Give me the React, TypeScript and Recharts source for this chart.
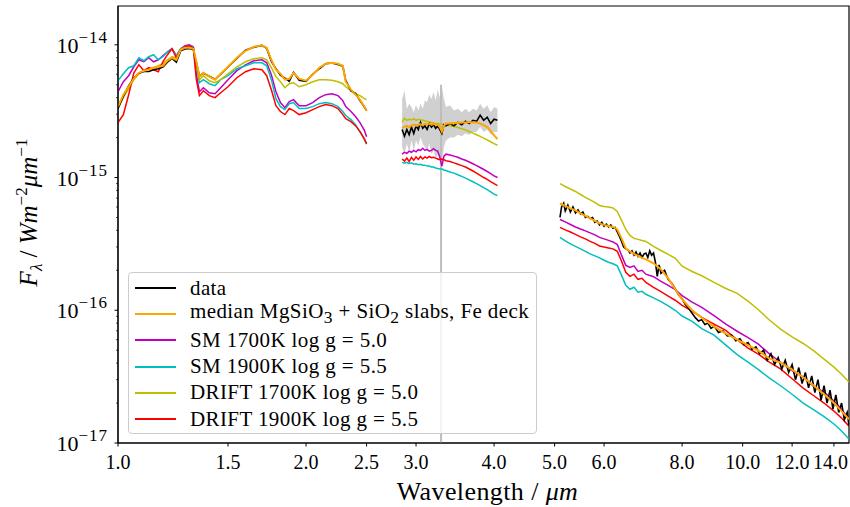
import React from 'react';
import { ComposedChart, Line, Area, XAxis, YAxis, ReferenceLine, ReferenceArea } from 'recharts';

// wavelength in um, flux in units of 1e-15 W m^-2 um^-1

// ---- 1.0 - 2.5 um
const WL_NIR = [1.0, 1.02, 1.04, 1.06, 1.08, 1.1, 1.12, 1.14, 1.16, 1.18, 1.2, 1.22, 1.24, 1.26, 1.28, 1.3, 1.32, 1.335, 1.35, 1.37, 1.4, 1.43, 1.46, 1.5, 1.55, 1.6, 1.65, 1.7, 1.73, 1.76, 1.79, 1.82, 1.85, 1.88, 1.91, 1.95, 2.0, 2.05, 2.1, 2.15, 2.2, 2.25, 2.29, 2.315, 2.36, 2.4, 2.44, 2.48, 2.5];
const DATA_NIR = [3.3, 4.1, 4.9, 5.6, 6.1, 6.3, 6.3, 6.5, 6.6, 6.8, 7.4, 7.9, 7.4, 9.0, 9.3, 9.4, 9.2, 7.3, 5.8, 6.1, 5.8, 5.5, 6.0, 6.8, 7.9, 9.1, 9.6, 9.9, 9.4, 7.5, 6.6, 5.9, 5.6, 5.3, 6.2, 5.4, 5.3, 6.0, 6.6, 7.2, 7.3, 7.1, 6.9, 5.4, 4.5, 4.3, 3.8, 3.4, 3.2];
const MEDIAN_NIR = [3.42, 4.21, 4.83, 5.55, 6.16, 6.38, 6.49, 6.72, 6.83, 6.95, 7.58, 7.99, 7.71, 9.17, 9.49, 9.49, 9.33, 7.45, 5.75, 6.16, 5.75, 5.46, 6.05, 6.83, 7.99, 9.01, 9.66, 9.91, 9.49, 7.71, 6.49, 6.05, 5.46, 5.55, 6.16, 5.55, 5.36, 5.95, 6.72, 7.2, 7.32, 7.2, 6.95, 5.27, 4.59, 4.21, 3.86, 3.42, 3.19];
const SM1700_NIR = [4.43, 5.27, 5.85, 6.83, 7.71, 7.45, 7.99, 7.45, 7.71, 8.27, 8.86, 9.33, 8.27, 9.33, 9.83, 10.0, 9.66, 5.95, 4.43, 4.75, 4.35, 4.28, 4.75, 5.46, 6.38, 7.07, 7.58, 7.71, 7.32, 5.95, 4.43, 3.67, 3.36, 3.73, 3.86, 3.48, 3.48, 3.67, 4.0, 4.21, 4.28, 4.14, 3.8, 3.42, 3.14, 2.88, 2.59, 2.27, 2.03];
const SM1900_NIR = [5.37, 6.05, 6.72, 6.95, 7.99, 7.58, 8.13, 8.42, 7.71, 8.13, 8.86, 9.33, 8.27, 9.33, 9.66, 9.83, 9.66, 6.72, 5.18, 5.46, 5.09, 4.92, 5.46, 5.85, 6.6, 6.95, 7.32, 7.32, 6.95, 5.46, 3.93, 3.42, 3.25, 3.6, 3.67, 3.31, 3.31, 3.42, 3.6, 3.67, 3.6, 3.42, 3.14, 2.93, 2.73, 2.5, 2.22, 1.93, 1.78];
const DRIFT1700_NIR = [3.36, 4.0, 4.67, 5.46, 6.05, 6.38, 6.6, 6.72, 6.95, 7.2, 7.71, 8.13, 7.99, 9.17, 9.49, 9.49, 9.33, 7.07, 5.46, 5.85, 5.36, 5.18, 5.46, 6.05, 6.83, 7.45, 7.85, 7.99, 7.71, 6.72, 5.75, 5.27, 4.75, 5.09, 5.18, 4.83, 5.0, 5.27, 5.46, 5.46, 5.41, 5.27, 5.09, 4.83, 4.51, 4.28, 4.14, 3.93, 3.86];
const DRIFT1900_NIR = [2.59, 2.98, 4.2, 6.13, 7.08, 6.38, 6.72, 6.49, 6.27, 7.45, 8.42, 9.33, 7.99, 9.17, 9.66, 9.83, 9.49, 5.46, 4.14, 4.51, 4.14, 4.0, 4.35, 4.83, 5.65, 6.27, 6.6, 6.49, 5.85, 4.59, 3.48, 3.14, 2.98, 3.31, 3.19, 2.98, 3.08, 3.25, 3.42, 3.55, 3.48, 3.31, 2.98, 2.78, 2.64, 2.46, 2.22, 1.96, 1.8];

// ---- 2.85 - 4.05 um
const WL_L = [2.85, 2.875, 2.9, 2.925, 2.95, 2.975, 3.0, 3.025, 3.05, 3.075, 3.1, 3.125, 3.15, 3.175, 3.2, 3.225, 3.25, 3.275, 3.3, 3.325, 3.35, 3.4, 3.45, 3.5, 3.55, 3.6, 3.65, 3.7, 3.75, 3.8, 3.85, 3.9, 3.95, 4.0, 4.05];
const DATA_L = [2.3, 2.05, 2.3, 2.1, 2.4, 2.15, 2.45, 2.3, 2.6, 2.35, 2.45, 2.3, 2.55, 2.4, 2.5, 2.35, 2.45, 2.3, 2.15, 2.5, 2.45, 2.55, 2.45, 2.6, 2.5, 2.65, 2.55, 2.7, 2.65, 2.95, 2.7, 2.85, 2.55, 2.75, 2.7];
const ERR_LO_L = [1.7, 1.5, 1.8, 1.55, 1.9, 1.6, 1.9, 1.75, 2.0, 1.8, 1.7, 1.6, 1.8, 1.5, 1.6, 1.4, 1.5, 1.4, 1.3, 1.7, 1.9, 2.0, 2.0, 2.1, 2.05, 2.15, 2.1, 2.2, 2.2, 2.4, 2.2, 2.3, 2.1, 2.2, 2.2];
const ERR_HI_L = [3.9, 4.5, 3.3, 3.6, 3.4, 3.1, 3.5, 3.2, 3.6, 3.3, 3.8, 3.7, 4.2, 3.9, 4.4, 3.8, 4.6, 4.0, 4.8, 3.9, 3.4, 3.5, 3.2, 3.3, 3.1, 3.3, 3.1, 3.3, 3.2, 3.6, 3.3, 3.5, 3.1, 3.4, 3.3];
const MEDIAN_L = [2.35, 2.42, 2.45, 2.4, 2.47, 2.5, 2.45, 2.5, 2.52, 2.48, 2.55, 2.52, 2.55, 2.5, 2.52, 2.53, 2.5, 2.4, 2.22, 2.45, 2.55, 2.55, 2.58, 2.57, 2.6, 2.6, 2.62, 2.6, 2.6, 2.55, 2.48, 2.4, 2.25, 2.08, 1.95];
const SM1700_L = [1.5, 1.55, 1.52, 1.58, 1.55, 1.6, 1.56, 1.62, 1.6, 1.66, 1.6, 1.63, 1.58, 1.6, 1.65, 1.6, 1.58, 1.42, 1.22, 1.45, 1.5, 1.48, 1.45, 1.42, 1.38, 1.35, 1.31, 1.27, 1.23, 1.19, 1.15, 1.11, 1.07, 1.03, 1.0];
const SM1900_L = [1.3, 1.28, 1.3, 1.27, 1.29, 1.26, 1.27, 1.25, 1.26, 1.24, 1.24, 1.22, 1.22, 1.2, 1.2, 1.18, 1.17, 1.16, 1.16, 1.14, 1.13, 1.1, 1.08, 1.05, 1.02, 0.99, 0.96, 0.93, 0.9, 0.87, 0.84, 0.81, 0.78, 0.75, 0.73];
const DRIFT1700_L = [2.62, 2.8, 2.7, 2.75, 2.72, 2.78, 2.7, 2.75, 2.72, 2.7, 2.68, 2.65, 2.62, 2.6, 2.58, 2.55, 2.55, 2.53, 2.52, 2.5, 2.48, 2.45, 2.42, 2.38, 2.33, 2.28, 2.22, 2.16, 2.1, 2.04, 1.98, 1.92, 1.86, 1.8, 1.75];
const DRIFT1900_L = [1.38, 1.33, 1.4, 1.32, 1.42, 1.35, 1.43, 1.37, 1.44, 1.38, 1.43, 1.4, 1.44, 1.41, 1.42, 1.4, 1.38, 1.36, 1.38, 1.36, 1.34, 1.32, 1.29, 1.26, 1.23, 1.2, 1.16, 1.12, 1.08, 1.04, 1.0, 0.97, 0.93, 0.9, 0.87];

// single wide error bar in the L band
const ERRBAR_WL = 3.29;
const ERRBAR_TOP = 5.0;

// ---- 5.1 - 14.8 um (models)
const WL_MIR = [5.1, 5.2, 5.3, 5.4, 5.5, 5.6, 5.7, 5.8, 5.9, 6.0, 6.1, 6.2, 6.3, 6.4, 6.5, 6.6, 6.7, 6.8, 6.9, 7.0, 7.2, 7.4, 7.6, 7.8, 8.0, 8.3, 8.6, 9.0, 9.4, 9.8, 10.2, 10.6, 11.0, 11.5, 12.0, 12.5, 13.0, 13.5, 14.0, 14.4, 14.8];
const MEDIAN_MIR = [0.637, 0.611, 0.585, 0.565, 0.536, 0.514, 0.492, 0.471, 0.451, 0.44, 0.432, 0.424, 0.406, 0.348, 0.292, 0.278, 0.266, 0.257, 0.248, 0.242, 0.226, 0.203, 0.174, 0.144, 0.121, 0.1, 0.0879, 0.0752, 0.0666, 0.06, 0.0545, 0.0496, 0.0436, 0.0403, 0.0357, 0.0313, 0.027, 0.0233, 0.02, 0.0174, 0.0151];
const SM1700_MIR = [0.483, 0.463, 0.443, 0.424, 0.41, 0.396, 0.383, 0.37, 0.354, 0.345, 0.336, 0.327, 0.313, 0.259, 0.218, 0.21, 0.216, 0.196, 0.2, 0.187, 0.179, 0.165, 0.154, 0.143, 0.129, 0.115, 0.105, 0.091, 0.0785, 0.0695, 0.0621, 0.0555, 0.0475, 0.0406, 0.0351, 0.0313, 0.0266, 0.0242, 0.0207, 0.018, 0.0151];
const SM1900_MIR = [0.354, 0.333, 0.316, 0.303, 0.29, 0.278, 0.266, 0.257, 0.248, 0.238, 0.23, 0.224, 0.216, 0.183, 0.154, 0.144, 0.149, 0.137, 0.139, 0.132, 0.124, 0.116, 0.108, 0.1, 0.0905, 0.0826, 0.0727, 0.0649, 0.0546, 0.0463, 0.0406, 0.0357, 0.0312, 0.027, 0.0233, 0.02, 0.0178, 0.0158, 0.0139, 0.0123, 0.0107];
const DRIFT1700_MIR = [0.901, 0.856, 0.82, 0.785, 0.745, 0.708, 0.678, 0.649, 0.616, 0.605, 0.6, 0.59, 0.555, 0.475, 0.406, 0.366, 0.348, 0.342, 0.336, 0.33, 0.303, 0.282, 0.264, 0.246, 0.215, 0.196, 0.182, 0.162, 0.146, 0.134, 0.117, 0.101, 0.0855, 0.072, 0.063, 0.0562, 0.0494, 0.0428, 0.0373, 0.033, 0.0288];
const DRIFT1900_MIR = [0.421, 0.403, 0.389, 0.373, 0.357, 0.345, 0.33, 0.319, 0.305, 0.3, 0.295, 0.29, 0.278, 0.234, 0.193, 0.18, 0.187, 0.171, 0.174, 0.162, 0.149, 0.138, 0.128, 0.119, 0.109, 0.0985, 0.0884, 0.0787, 0.0706, 0.06, 0.0518, 0.0467, 0.0411, 0.0362, 0.0305, 0.0259, 0.0227, 0.02, 0.0174, 0.0154, 0.0134];

// ---- 5.1 - 14.8 um (observed spectrum, finer sampling)
const WL_DATA_MIR = [5.1, 5.13, 5.17, 5.2, 5.25, 5.3, 5.35, 5.4, 5.45, 5.5, 5.55, 5.6, 5.65, 5.7, 5.75, 5.8, 5.85, 5.9, 5.95, 6.0,
  6.05, 6.1, 6.15, 6.2, 6.25, 6.3, 6.35, 6.4, 6.45, 6.5, 6.55, 6.6, 6.65, 6.7, 6.75, 6.8, 6.85, 6.9, 6.95, 7.0, 7.05, 7.1, 7.15, 7.2, 7.25, 7.3, 7.35, 7.4,
  7.5, 7.6, 7.7, 7.8, 7.9, 8.0, 8.1, 8.2, 8.3, 8.4, 8.5, 8.6, 8.7, 8.8, 8.9, 9.0,
  9.15, 9.3, 9.45, 9.6, 9.75, 9.9, 10.05, 10.2, 10.35, 10.5, 10.65, 10.8, 10.95, 11.1, 11.25, 11.4, 11.55, 11.7, 11.85, 12.0, 12.15, 12.3, 12.45, 12.6, 12.75, 12.9, 13.05, 13.2, 13.35, 13.5, 13.65, 13.8, 13.95, 14.1, 14.25, 14.4, 14.55, 14.7,
  14.8];
const DATA_MIR = [0.5, 0.6, 0.64, 0.56, 0.62, 0.55, 0.6, 0.54, 0.57, 0.53, 0.55, 0.5, 0.51, 0.49, 0.5, 0.46, 0.47, 0.44, 0.46, 0.43,
  0.445, 0.425, 0.44, 0.415, 0.42, 0.39, 0.36, 0.33, 0.3, 0.29, 0.285, 0.27, 0.28, 0.26, 0.275, 0.255, 0.27, 0.25, 0.265, 0.27, 0.25, 0.28, 0.26, 0.27, 0.23, 0.18, 0.22, 0.19,
  0.2, 0.17, 0.16, 0.145, 0.13, 0.122, 0.11, 0.103, 0.095, 0.088, 0.083, 0.085, 0.078, 0.08, 0.073, 0.076,
  0.068, 0.07, 0.064, 0.065, 0.059, 0.061, 0.055, 0.057, 0.051, 0.053, 0.047, 0.05, 0.042, 0.047, 0.039, 0.044, 0.036, 0.042, 0.034, 0.039, 0.03, 0.037, 0.028, 0.034, 0.026, 0.032, 0.024, 0.03, 0.021, 0.027, 0.02, 0.025, 0.018, 0.023, 0.017, 0.02, 0.015, 0.017,
  0.0135];

const X_DOMAIN = [1, 14.8];
const Y_DOMAIN = [0.01, 19.6];
const X_TICKS = [1, 1.5, 2, 2.5, 3, 4, 5, 6, 8, 10, 12, 14];
const Y_TICKS = [0.01, 0.02, 0.03, 0.04, 0.05, 0.06, 0.07, 0.08, 0.09, 0.1, 0.2, 0.3, 0.4, 0.5, 0.6, 0.7, 0.8, 0.9, 1, 2, 3, 4, 5, 6, 7, 8, 9, 10];
const Y_UNIT_EXP = -15;

const FONT = '"Liberation Serif", "DejaVu Serif", serif';
const CHART_W = 850;

const segment = (wl: number[], cols: Record<string, number[]>, lo?: number[], hi?: number[]) =>
  wl.map((w, i) => {
    const row: any = { wl: w };
    Object.keys(cols).forEach(k => (row[k] = cols[k][i]));
    if (lo && hi) row.band = [lo[i], hi[i]];
    return row;
  });

const rows = [
  ...segment(WL_NIR, { median: MEDIAN_NIR, sm1700: SM1700_NIR, sm1900: SM1900_NIR, drift1700: DRIFT1700_NIR, drift1900: DRIFT1900_NIR }),
  { wl: 2.7 },
  ...segment(WL_L, { median: MEDIAN_L, sm1700: SM1700_L, sm1900: SM1900_L, drift1700: DRIFT1700_L, drift1900: DRIFT1900_L }, ERR_LO_L, ERR_HI_L),
  { wl: 4.6 },
  ...segment(WL_MIR, { median: MEDIAN_MIR, sm1700: SM1700_MIR, sm1900: SM1900_MIR, drift1700: DRIFT1700_MIR, drift1900: DRIFT1900_MIR }),
];

const dataRows = [
  ...segment(WL_NIR, { data: DATA_NIR }),
  { wl: 2.7 },
  ...segment(WL_L, { data: DATA_L }),
  { wl: 4.6 },
  ...segment(WL_DATA_MIR, { data: DATA_MIR }),
];

const SERIES = [
  { key: 'data', color: '#000000', width: 1.6, label: <>data</> },
  { key: 'median', color: '#ffa500', width: 2, label: <>median MgSiO<sub>3</sub> + SiO<sub>2</sub> slabs, Fe deck</> },
  { key: 'sm1700', color: '#bf00bf', width: 1.5, label: <>SM 1700K log g = 5.0</> },
  { key: 'sm1900', color: '#00bfbf', width: 1.5, label: <>SM 1900K log g = 5.5</> },
  { key: 'drift1700', color: '#bfbf00', width: 1.5, label: <>DRIFT 1700K log g = 5.0</> },
  { key: 'drift1900', color: '#ff0000', width: 1.5, label: <>DRIFT 1900K log g = 5.5</> },
];
// drawing order: models first, observed spectrum, median fit on top
const MODEL_ORDER = ['sm1700', 'sm1900', 'drift1700', 'drift1900'];

const XTick = (props: any) => {
  const { x, y, payload } = props;
  const label = payload.value.toFixed(1);
  // keep the last label inside the figure, like the tight matplotlib bbox
  const half = label.length * 4.6;
  const tx = Math.min(x, CHART_W - half - 1);
  return (
    <text x={tx} y={y} dy="0.71em" textAnchor="middle" fontFamily={FONT} fontSize={20} fill="#000">
      {label}
    </text>
  );
};

const YTick = (props: any) => {
  const { x, y, payload } = props;
  const lg = Math.log10(payload.value);
  const major = Math.abs(lg - Math.round(lg)) < 1e-6;
  return (
    <g>
      <line x1={x - (major ? 3.5 : 2)} x2={x} y1={y} y2={y} stroke="#000" strokeWidth={major ? 1 : 0.7} />
      {major && (
        <text x={x - 10} y={y + 8} textAnchor="end" fontFamily={FONT} fontSize={22} fill="#000">
          10<tspan dy={-10} fontSize={17} letterSpacing={1}>{'\u2212' + Math.abs(Math.round(lg) + Y_UNIT_EXP)}</tspan>
        </text>
      )}
    </g>
  );
};

const XTitle = (props: any) => {
  const vb = props.viewBox || { x: 118, y: 443, width: 731 };
  return (
    <text x={vb.x + vb.width / 2 + 4} y={vb.y + 57} textAnchor="middle" fontFamily={FONT} fontSize={26} letterSpacing={0.4} fill="#000">
      Wavelength / <tspan fontStyle="italic">μm</tspan>
    </text>
  );
};

const YTitle = (props: any) => {
  const vb = props.viewBox || { y: 6, height: 437 };
  const cx = 37;
  const cy = vb.y + vb.height / 2 - 12;
  return (
    <text x={cx} y={cy} transform={`rotate(-90 ${cx} ${cy})`} textAnchor="middle" fontFamily={FONT} fontSize={25} fill="#000">
      <tspan fontStyle="italic">F</tspan>
      <tspan dy={5} fontSize={17} fontStyle="italic">λ</tspan>
      <tspan dy={-5}> / </tspan>
      <tspan fontStyle="italic">Wm</tspan>
      <tspan dy={-10} fontSize={17}>−2</tspan>
      <tspan dy={10} fontStyle="italic">μm</tspan>
      <tspan dy={-10} fontSize={17}>−1</tspan>
    </text>
  );
};

const styleOf = (k: string) => SERIES.find(e => e.key === k)!;

export default function App() {
  const data = styleOf('data');
  const median = styleOf('median');
  return (
    <div style={{ position: 'relative', width: CHART_W, height: 507, background: '#fff' }}>
      <style>{'body{margin:0}'}</style>
      <ComposedChart width={CHART_W} height={507} data={rows} margin={{ top: 6, right: 1, bottom: 0, left: 0 }}>
        <XAxis
          dataKey="wl"
          type="number"
          scale="log"
          domain={X_DOMAIN}
          allowDataOverflow
          ticks={X_TICKS}
          interval={0}
          tick={<XTick />}
          tickSize={3.5}
          tickMargin={8}
          tickLine={{ stroke: '#000' }}
          axisLine={{ stroke: '#000' }}
          height={64}
          label={{ content: (p: any) => <XTitle {...p} /> }}
        />
        <YAxis
          type="number"
          scale="log"
          domain={Y_DOMAIN}
          allowDataOverflow
          ticks={Y_TICKS}
          interval={0}
          tick={<YTick />}
          tickLine={false}
          tickSize={0}
          tickMargin={0}
          axisLine={{ stroke: '#000' }}
          width={118}
          label={{ content: (p: any) => <YTitle {...p} /> }}
        />
        <ReferenceLine
          segment={[{ x: ERRBAR_WL, y: ERRBAR_TOP }, { x: ERRBAR_WL, y: Y_DOMAIN[0] }]}
          stroke="#bdbdbd"
          strokeWidth={2}
        />
        <Area
          dataKey="band"
          stroke="none"
          fill="#c0c0c0"
          fillOpacity={0.75}
          isAnimationActive={false}
          connectNulls={false}
          legendType="none"
        />
        {MODEL_ORDER.map(k => {
          const s = styleOf(k);
          return (
            <Line
              key={k}
              dataKey={k}
              stroke={s.color}
              strokeWidth={s.width}
              dot={false}
              type="linear"
              connectNulls={false}
              isAnimationActive={false}
            />
          );
        })}
        <Line
          data={dataRows}
          dataKey="data"
          stroke={data.color}
          strokeWidth={data.width}
          dot={false}
          type="linear"
          connectNulls={false}
          isAnimationActive={false}
        />
        <Line
          dataKey="median"
          stroke={median.color}
          strokeWidth={median.width}
          dot={false}
          type="linear"
          connectNulls={false}
          isAnimationActive={false}
        />
        <ReferenceArea x1={X_DOMAIN[0]} x2={X_DOMAIN[1]} y1={Y_DOMAIN[0]} y2={Y_DOMAIN[1]} fill="none" stroke="#000" strokeWidth={1.2} />
      </ComposedChart>
      <div
        style={{
          position: 'absolute',
          left: 128,
          top: 272,
          width: 409,
          height: 162,
          boxSizing: 'border-box',
          border: '1px solid #cccccc',
          borderRadius: 4,
          background: 'rgba(255,255,255,0.8)',
          paddingTop: 2,
          fontFamily: FONT,
          fontSize: 21,
          letterSpacing: 0.4,
          color: '#000',
        }}
      >
        {SERIES.map(s => (
          <div key={s.key} style={{ height: 26.2, display: 'flex', alignItems: 'center', whiteSpace: 'nowrap' }}>
            <span style={{ display: 'inline-block', width: 41, height: 2, background: s.color, marginLeft: 6, marginRight: 14 }} />
            <span style={{ lineHeight: 1 }}>{s.label}</span>
          </div>
        ))}
      </div>
    </div>
  );
}
